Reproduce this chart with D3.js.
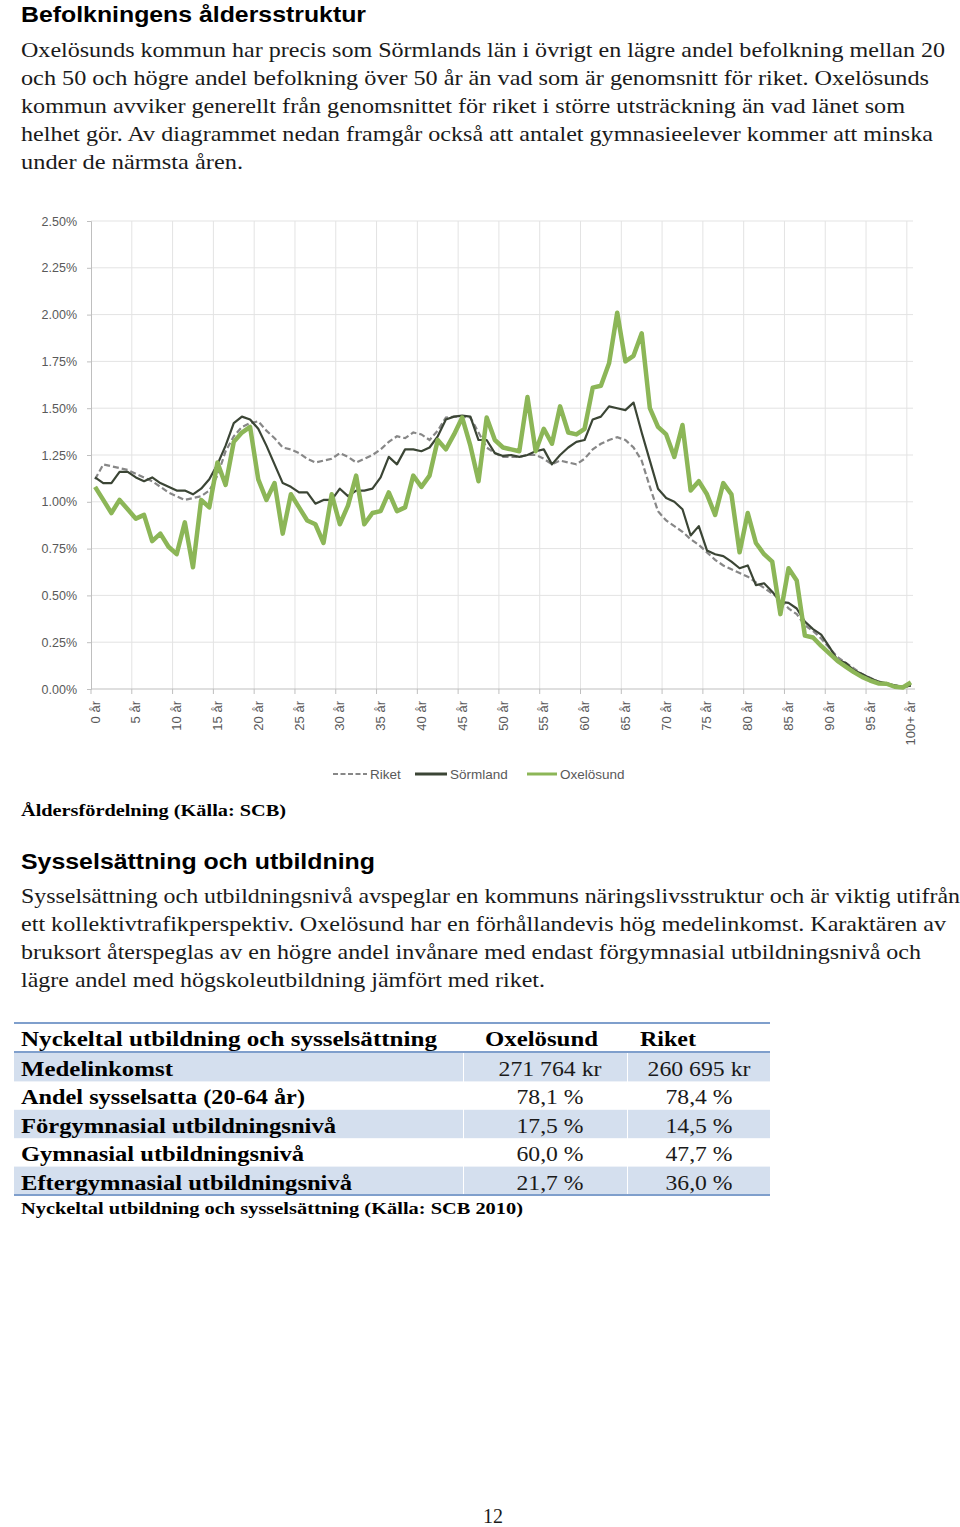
<!DOCTYPE html>
<html><head><meta charset="utf-8">
<script src="https://cdn.jsdelivr.net/npm/d3@7"></script>
<style>
html,body{margin:0;padding:0;background:#fff;}
svg{display:block;}
</style></head>
<body>
<script>
// ---------- DATA ----------
const ages = [0,1,2,3,4,5,6,7,8,9,10,11,12,13,14,15,16,17,18,19,20,21,22,23,24,25,26,27,28,29,30,31,32,33,34,35,36,37,38,39,40,41,42,43,44,45,46,47,48,49,50,51,52,53,54,55,56,57,58,59,60,61,62,63,64,65,66,67,68,69,70,71,72,73,74,75,76,77,78,79,80,81,82,83,84,85,86,87,88,89,90,91,92,93,94,95,96,97,98,99,100];
const tickAges = [0,5,10,15,20,25,30,35,40,45,50,55,60,65,70,75,80,85,90,95,100];
const tickLabels = ["0 år","5 år","10 år","15 år","20 år","25 år","30 år","35 år","40 år","45 år","50 år","55 år","60 år","65 år","70 år","75 år","80 år","85 år","90 år","95 år","100+ år"];
const yTicks = [0,0.25,0.5,0.75,1.0,1.25,1.5,1.75,2.0,2.25,2.5];
const seriesNames = ["Riket","Sörmland","Oxelösund"];

const riket = [1.12,1.20,1.19,1.18,1.17,1.15,1.13,1.11,1.08,1.05,1.03,1.01,1.02,1.03,1.06,1.14,1.27,1.35,1.40,1.42,
1.43,1.38,1.34,1.29,1.28,1.26,1.23,1.21,1.22,1.23,1.26,1.24,1.21,1.23,1.25,1.28,1.32,1.35,1.34,1.37,
1.36,1.33,1.38,1.45,1.455,1.455,1.45,1.37,1.29,1.26,1.24,1.24,1.24,1.25,1.25,1.23,1.20,1.22,1.21,1.20,
1.23,1.28,1.31,1.33,1.345,1.33,1.29,1.22,1.08,0.95,0.90,0.87,0.84,0.80,0.77,0.73,0.69,0.66,0.64,0.62,
0.60,0.57,0.54,0.51,0.48,0.43,0.40,0.34,0.31,0.27,0.22,0.17,0.14,0.11,0.08,0.06,0.04,0.03,0.02,0.01,0.015];

const sormland = [1.13,1.10,1.10,1.16,1.16,1.13,1.11,1.13,1.10,1.08,1.06,1.06,1.04,1.07,1.12,1.20,1.30,1.42,1.455,1.44,
1.39,1.30,1.20,1.10,1.08,1.05,1.05,0.99,1.01,1.01,1.07,1.03,1.06,1.06,1.07,1.13,1.24,1.20,1.28,1.28,
1.27,1.29,1.35,1.44,1.455,1.46,1.455,1.33,1.33,1.26,1.245,1.25,1.24,1.25,1.27,1.28,1.20,1.25,1.29,1.32,
1.33,1.44,1.455,1.51,1.50,1.49,1.53,1.37,1.22,1.07,1.02,1.00,0.96,0.82,0.87,0.74,0.72,0.71,0.68,0.645,
0.66,0.555,0.565,0.52,0.465,0.46,0.43,0.36,0.32,0.29,0.225,0.155,0.14,0.10,0.08,0.057,0.04,0.03,0.02,0.012,0.018];

const oxelosund = [1.08,1.01,0.94,1.01,0.96,0.91,0.93,0.79,0.83,0.76,0.72,0.89,0.65,1.01,0.97,1.21,1.09,1.32,1.37,1.40,
1.12,1.01,1.10,0.83,1.04,0.97,0.90,0.88,0.78,1.04,0.88,0.98,1.14,0.88,0.94,0.95,1.05,0.95,0.97,1.14,
1.08,1.14,1.33,1.28,1.36,1.45,1.30,1.11,1.45,1.33,1.29,1.28,1.27,1.56,1.27,1.39,1.31,1.51,1.37,1.36,
1.39,1.61,1.62,1.74,2.01,1.75,1.78,1.90,1.50,1.40,1.36,1.24,1.41,1.06,1.11,1.04,0.93,1.10,1.04,0.73,
0.94,0.78,0.72,0.68,0.40,0.645,0.58,0.285,0.275,0.23,0.19,0.15,0.12,0.09,0.065,0.045,0.03,0.028,0.012,0.008,0.035];

// text content
const title1 = "Befolkningens åldersstruktur";
const para1 = [
 "Oxelösunds kommun har precis som Sörmlands län i övrigt en lägre andel befolkning mellan 20",
 "och 50 och högre andel befolkning över 50 år än vad som är genomsnitt för riket. Oxelösunds",
 "kommun avviker generellt från genomsnittet för riket i större utsträckning än vad länet som",
 "helhet gör. Av diagrammet nedan framgår också att antalet gymnasieelever kommer att minska",
 "under de närmsta åren."];
const caption1 = "Åldersfördelning (Källa: SCB)";
const title2 = "Sysselsättning och utbildning";
const para2 = [
 "Sysselsättning och utbildningsnivå avspeglar en kommuns näringslivsstruktur och är viktig utifrån",
 "ett kollektivtrafikperspektiv. Oxelösund har en förhållandevis hög medelinkomst. Karaktären av",
 "bruksort återspeglas av en högre andel invånare med endast förgymnasial utbildningsnivå och",
 "lägre andel med högskoleutbildning jämfört med riket."];
const tableHeader = ["Nyckeltal utbildning och sysselsättning","Oxelösund","Riket"];
const tableRows = ["Medelinkomst","Andel sysselsatta (20-64 år)","Förgymnasial utbildningsnivå","Gymnasial utbildningsnivå","Eftergymnasial utbildningsnivå"];
const tableOxelosund = ["271 764 kr","78,1 %","17,5 %","60,0 %","21,7 %"];
const tableRiket = ["260 695 kr","78,4 %","14,5 %","47,7 %","36,0 %"];
const caption2 = "Nyckeltal utbildning och sysselsättning (Källa: SCB 2010)";
const pageNumber = "12";

// ---------- DRAW ----------
(function draw() {
const W = 960, H = 1527;
const svg = d3.select("body").append("svg").attr("width", W).attr("height", H);
svg.append("rect").attr("width", W).attr("height", H).attr("fill", "#fff");

const serif = "'Liberation Serif','DejaVu Serif',serif";
const sans = "'Liberation Sans',Arial,sans-serif";
const narrow = "'Liberation Sans Narrow','Liberation Sans',sans-serif";

function txt(g, s, x, y, opts) {
  const t = g.append("text").attr("x", x).attr("y", y).text(s)
    .attr("font-family", opts.family || serif)
    .attr("font-size", opts.size || 22)
    .attr("font-weight", opts.weight || "normal")
    .attr("fill", opts.fill || "#111");
  if (opts.anchor) t.attr("text-anchor", opts.anchor);
  if (opts.width) t.attr("textLength", opts.width).attr("lengthAdjust", "spacingAndGlyphs");
  return t;
}

// Heading 1 + paragraph 1
txt(svg, title1, 21, 22, {family: sans, size: 22, weight: "bold", width: 345, fill: "#000"});
const p1w = [924, 908, 884, 912, 222];
para1.forEach((l, i) => txt(svg, l, 21, 57 + i * 28, {size: 22, width: p1w[i], fill: "#1a1a1a"}));

// ---------- CHART ----------
const pL = 91, pR = 915, pT = 221, pB = 689;
const x = d3.scaleBand().domain(ages).range([pL, pR]);
const y = d3.scaleLinear().domain([0, 2.5]).range([pB, pT]);
const cx = a => x(a) + x.bandwidth() / 2;
const chart = svg.append("g");

chart.append("g").selectAll("line").data(yTicks.filter(d => d > 0)).join("line")
  .attr("x1", pL).attr("x2", pR - 2).attr("y1", d => y(d)).attr("y2", d => y(d))
  .attr("stroke", "#e3e3e3").attr("stroke-width", 1);
chart.append("g").selectAll("line").data(tickAges.slice(1)).join("line")
  .attr("x1", d => x(d)).attr("x2", d => x(d)).attr("y1", pT).attr("y2", pB)
  .attr("stroke", "#e3e3e3").attr("stroke-width", 1);

const yAxis = d3.axisLeft(y).tickValues(yTicks).tickFormat(d => d.toFixed(2) + "%").tickSize(4).tickPadding(10);
const yg = chart.append("g").attr("transform", `translate(${pL},0)`).call(yAxis);
yg.select(".domain").attr("stroke", "#bfbfbf");
yg.selectAll(".tick line").attr("stroke", "#bfbfbf");
yg.selectAll(".tick text").attr("font-family", sans).attr("font-size", 12.5).attr("fill", "#595959");

chart.append("line").attr("x1", pL).attr("x2", pR).attr("y1", pB).attr("y2", pB).attr("stroke", "#bfbfbf");
chart.append("g").selectAll("line").data(tickAges).join("line")
  .attr("x1", d => x(d)).attr("x2", d => x(d)).attr("y1", pB).attr("y2", pB + 5)
  .attr("stroke", "#bfbfbf");
chart.append("g").selectAll("text").data(tickAges).join("text")
  .attr("transform", d => `translate(${cx(d) + 4.5},${pB + 12}) rotate(-90)`)
  .attr("text-anchor", "end")
  .attr("font-family", sans).attr("font-size", 13).attr("fill", "#595959")
  .text((d, i) => tickLabels[i]);

const line = d3.line().x((d, i) => cx(ages[i])).y(d => y(d));
chart.append("path").datum(riket).attr("d", line).attr("fill", "none")
  .attr("stroke", "#878787").attr("stroke-width", 2.2).attr("stroke-dasharray", "6,3");
chart.append("path").datum(sormland).attr("d", line).attr("fill", "none")
  .attr("stroke", "#3b4535").attr("stroke-width", 2.2).attr("stroke-linejoin", "round");
chart.append("path").datum(oxelosund).attr("d", line).attr("fill", "none")
  .attr("stroke", "#8cb657").attr("stroke-width", 4.5).attr("stroke-linejoin", "round");

// legend
const legend = svg.append("g");
const legItems = [
  {name: seriesNames[0], x0: 333, x1: 367, color: "#878787", w: 2.2, dash: "5,2.5"},
  {name: seriesNames[1], x0: 415, x1: 447, color: "#3b4535", w: 3, dash: null},
  {name: seriesNames[2], x0: 527, x1: 557, color: "#8cb657", w: 3, dash: null}];
legItems.forEach(it => {
  const l = legend.append("line").attr("x1", it.x0).attr("x2", it.x1).attr("y1", 774).attr("y2", 774)
    .attr("stroke", it.color).attr("stroke-width", it.w);
  if (it.dash) l.attr("stroke-dasharray", it.dash);
  txt(legend, it.name, it.x1 + 3, 779, {family: narrow, size: 13.5, fill: "#595959"});
});

txt(svg, caption1, 21, 816, {size: 17, weight: "bold", width: 265, fill: "#000"});

txt(svg, title2, 21, 869, {family: sans, size: 22, weight: "bold", width: 354, fill: "#000"});
const p2w = [939, 925, 900, 524];
para2.forEach((l, i) => txt(svg, l, 21, 903 + i * 28, {size: 22, width: p2w[i], fill: "#1a1a1a"}));

// ---------- TABLE ----------
const table = svg.append("g");
const tLeft = 14, tRight = 770, col2 = 463, col3 = 627;
const rowTop = 1053, rowH = 28.4;
tableRows.forEach((r, i) => {
  if (i % 2 === 0) {
    const yy = rowTop + i * rowH;
    [[tLeft, col2], [col2 + 1, col3], [col3 + 1, tRight]].forEach(([a, b]) => {
      table.append("rect").attr("x", a).attr("y", yy).attr("width", b - a).attr("height", rowH)
        .attr("fill", "#d4dfee");
    });
  }
});
[1023, 1052, 1195].forEach(yy => table.append("line").attr("x1", tLeft).attr("x2", tRight)
  .attr("y1", yy).attr("y2", yy).attr("stroke", "#7f9fcc").attr("stroke-width", 2));

const hW = [416, 113, 56];
txt(table, tableHeader[0], 21, 1046, {size: 22, weight: "bold", width: hW[0], fill: "#000"});
txt(table, tableHeader[1], 485, 1046, {size: 22, weight: "bold", width: hW[1], fill: "#000"});
txt(table, tableHeader[2], 640, 1046, {size: 22, weight: "bold", width: hW[2], fill: "#000"});
const rW = [152, 284, 315, 283, 331];
tableRows.forEach((r, i) => {
  const yb = 1076 + i * rowH;
  txt(table, r, 21, yb, {size: 22, weight: "bold", width: rW[i], fill: "#000"});
  const vw = i === 0 ? 103 : 67;
  txt(table, tableOxelosund[i], 550, yb, {size: 22, anchor: "middle", width: vw, fill: "#1a1a1a"});
  txt(table, tableRiket[i], 699, yb, {size: 22, anchor: "middle", width: vw, fill: "#1a1a1a"});
});
txt(svg, caption2, 21, 1214, {size: 17, weight: "bold", width: 502, fill: "#000"});

txt(svg, pageNumber, 493, 1523, {size: 20, anchor: "middle", fill: "#1a1a1a"});
})();
</script>
</body></html>
